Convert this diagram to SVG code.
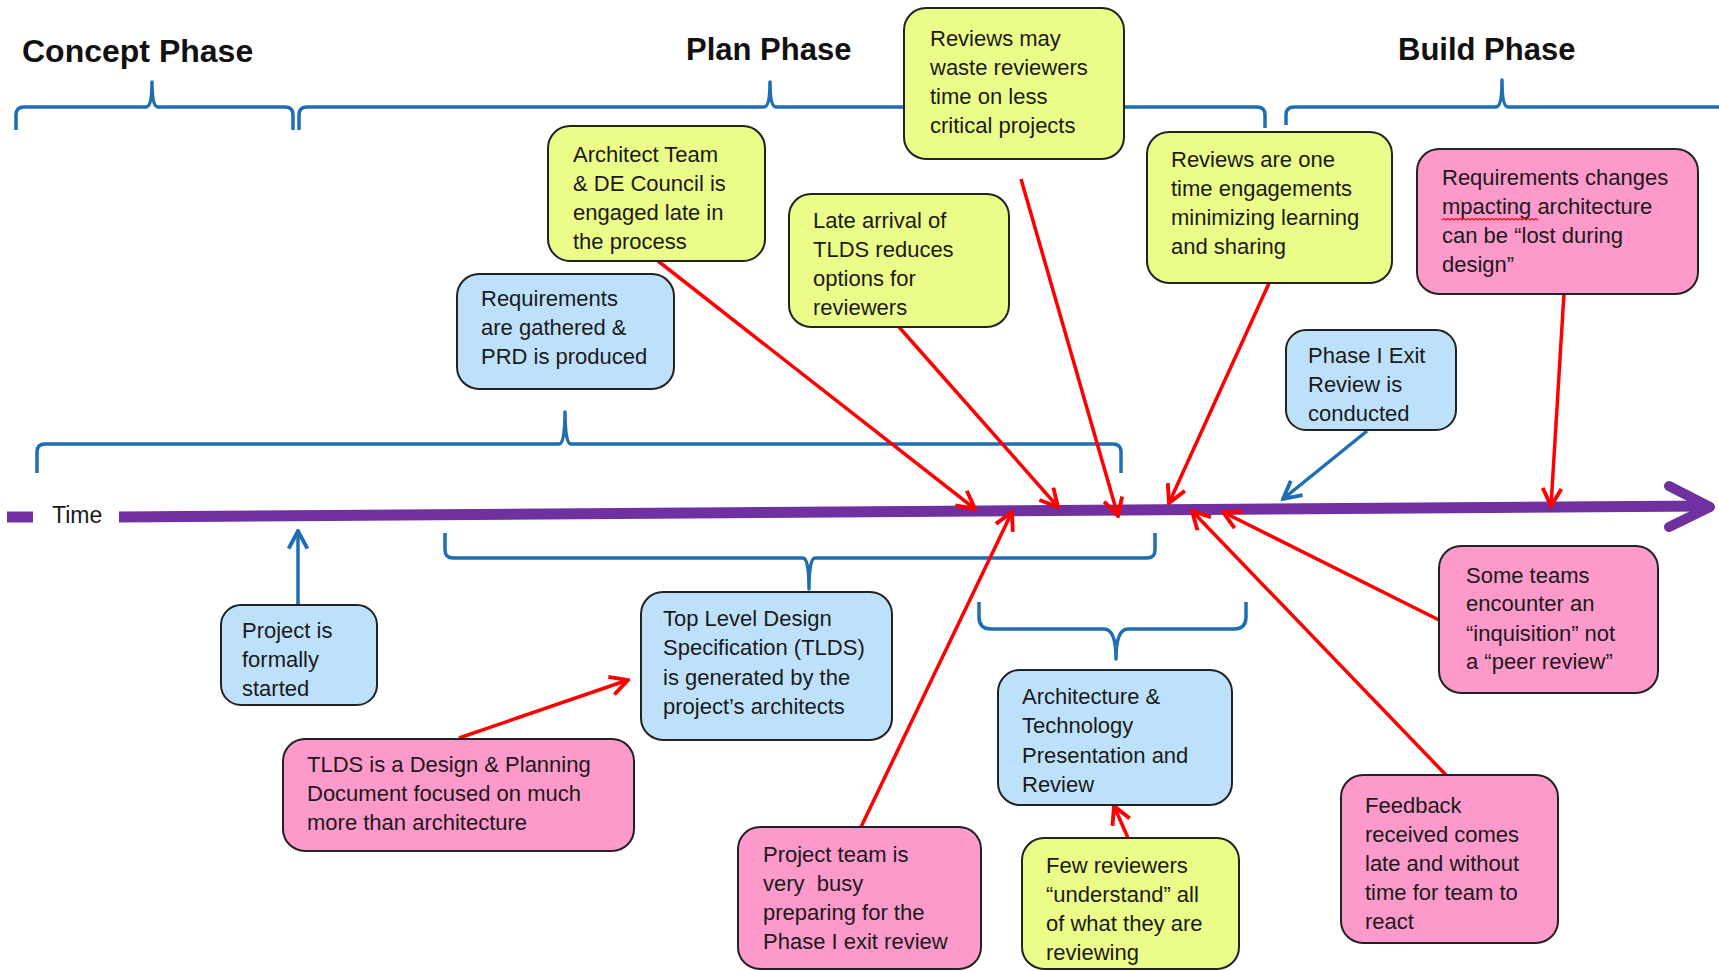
<svg xmlns="http://www.w3.org/2000/svg" width="1719" height="971" viewBox="0 0 1719 971">
<style>
.hdr{font-family:"Liberation Sans",Arial,sans-serif;font-weight:bold;font-size:31px;fill:#111}
.t{font-family:"Liberation Sans",Arial,sans-serif;font-size:22px;fill:#1a1a1a;white-space:pre}
.box{stroke:#222;stroke-width:2}
.y{fill:#ECFC88}
.b{fill:#BEE1FB}
.p{fill:#FD99CB}
.brace{fill:none;stroke:#1F6DB3;stroke-width:3.5;stroke-linejoin:round}
.red{stroke:#FF0000;stroke-width:3.5;fill:none;marker-end:url(#ar)}
.blue{stroke:#1F6DB3;stroke-width:3.5;fill:none;marker-end:url(#ab)}
</style>
<defs>
<marker id="ar" viewBox="0 0 20 20" refX="18" refY="10" markerWidth="22" markerHeight="22" markerUnits="userSpaceOnUse" orient="auto">
<path d="M2,1.5 L18,10 L2,18.5" fill="none" stroke="#FF0000" stroke-width="3.5"/>
</marker>
<marker id="ab" viewBox="0 0 20 20" refX="18" refY="10" markerWidth="22" markerHeight="22" markerUnits="userSpaceOnUse" orient="auto">
<path d="M2,1.5 L18,10 L2,18.5" fill="none" stroke="#1F6DB3" stroke-width="3.5"/>
</marker>
</defs>
<rect width="1719" height="971" fill="#fff"/>

<g id="headers">
<text class="hdr" x="22" y="62" style="font-size:32px">Concept Phase</text>
<text class="hdr" x="686" y="60">Plan Phase</text>
<text class="hdr" x="1398" y="60">Build Phase</text>
</g>

<g id="brackets">
<path class="brace" d="M16,130 L16,115 Q16,107 24,107 L146,107 Q152,107 152,82 Q152,107 158,107 L285,107 Q293,107 293,115 L293,130"/>
<path class="brace" d="M299,130 L299,115 Q299,107 307,107 L764,107 Q770,107 770,82 Q770,107 776,107 L1257,107 Q1265,107 1265,115 L1265,128"/>
<path class="brace" d="M1286,125 L1286,115 Q1286,107 1294,107 L1496,107 Q1502,107 1502,80 Q1502,107 1508,107 L1725,107"/>
<path class="brace" d="M37,473 L37,452 Q37,444 45,444 L559,444 Q565,444 565,412 Q565,444 571,444 L1113,444 Q1121,444 1121,452 L1121,473"/>
<path class="brace" d="M445,533 L445,550 Q445,558 453,558 L803,558 Q809,558 809,589 Q809,558 815,558 L1147,558 Q1155,558 1155,550 L1155,533"/>
<path class="brace" d="M979,602 L979,617 Q979,629 991,629 L1104,629 Q1116,629 1116,659 Q1116,629 1128,629 L1234,629 Q1246,629 1246,617 L1246,602"/>
</g>

<g id="timeline">
<line x1="7" y1="517" x2="33" y2="517" stroke="#7030A0" stroke-width="11"/>
<text class="t" x="52" y="523" style="font-size:23px">Time</text>
<line x1="119" y1="517" x2="1706" y2="506" stroke="#7030A0" stroke-width="11"/>
<path d="M1669,486 L1710,507 L1669,527" fill="none" stroke="#7030A0" stroke-width="10" stroke-linecap="round" stroke-linejoin="round"/>
</g>

<g id="connectors">
<line class="red" x1="658" y1="261" x2="975" y2="509"/>
<line class="red" x1="899" y1="327" x2="1058" y2="507"/>
<line class="red" x1="1021" y1="179" x2="1118" y2="516"/>
<line class="red" x1="1270" y1="281" x2="1169" y2="503"/>
<line class="blue" x1="1367" y1="431" x2="1283" y2="499"/>
<line class="red" x1="1564" y1="293" x2="1551" y2="506"/>
<line class="blue" x1="298" y1="605" x2="298" y2="531"/>
<line class="red" x1="459" y1="738" x2="628" y2="680"/>
<line class="red" x1="861" y1="827" x2="1012" y2="512"/>
<line class="red" x1="1446" y1="775" x2="1192" y2="511"/>
<line class="red" x1="1439" y1="620" x2="1223" y2="512"/>
<line class="red" x1="1128" y1="838" x2="1114" y2="806"/>
</g>

<g id="node-reviews-waste">
<rect class="box y" x="904" y="8" width="220" height="151" rx="22"/>
<text class="t"><tspan x="930" y="46">Reviews may</tspan><tspan x="930" y="75">waste reviewers</tspan><tspan x="930" y="104">time on less</tspan><tspan x="930" y="133">critical projects</tspan></text>
</g>
<g id="node-architect-team">
<rect class="box y" x="548" y="126" width="217" height="135" rx="22"/>
<text class="t"><tspan x="573" y="162">Architect Team</tspan><tspan x="573" y="191">&amp; DE Council is</tspan><tspan x="573" y="220">engaged late in</tspan><tspan x="573" y="249">the process</tspan></text>
</g>
<g id="node-late-arrival">
<rect class="box y" x="789" y="194" width="220" height="133" rx="22"/>
<text class="t"><tspan x="813" y="228">Late arrival of</tspan><tspan x="813" y="257">TLDS reduces</tspan><tspan x="813" y="286">options for</tspan><tspan x="813" y="315">reviewers</tspan></text>
</g>
<g id="node-requirements">
<rect class="box b" x="457" y="274" width="217" height="115" rx="22"/>
<text class="t"><tspan x="481" y="306">Requirements</tspan><tspan x="481" y="335">are gathered &amp;</tspan><tspan x="481" y="364">PRD is produced</tspan></text>
</g>
<g id="node-one-time">
<rect class="box y" x="1147" y="132" width="245" height="151" rx="22"/>
<text class="t"><tspan x="1171" y="167">Reviews are one</tspan><tspan x="1171" y="196">time engagements</tspan><tspan x="1171" y="225">minimizing learning</tspan><tspan x="1171" y="254">and sharing</tspan></text>
</g>
<g id="node-req-changes">
<rect class="box p" x="1417" y="149" width="281" height="145" rx="22"/>
<text class="t"><tspan x="1442" y="185">Requirements changes</tspan><tspan x="1442" y="214">mpacting architecture</tspan><tspan x="1442" y="243">can be “lost during</tspan><tspan x="1442" y="272">design”</tspan></text>
<path d="M1442,220 l2,-1.6 2,1.6 2,-1.6 2,1.6 2,-1.6 2,1.6 2,-1.6 2,1.6 2,-1.6 2,1.6 2,-1.6 2,1.6 2,-1.6 2,1.6 2,-1.6 2,1.6 2,-1.6 2,1.6 2,-1.6 2,1.6 2,-1.6 2,1.6 2,-1.6 2,1.6 2,-1.6 2,1.6 2,-1.6 2,1.6 2,-1.6 2,1.6 2,-1.6 2,1.6 2,-1.6 2,1.6 2,-1.6 2,1.6 2,-1.6 2,1.6 2,-1.6 2,1.6 2,-1.6 2,1.6 2,-1.6 2,1.6 2,-1.6 2,1.6 2,-1.6 2,1.6" fill="none" stroke="#FF0000" stroke-width="1.2"/>
</g>
<g id="node-phase-exit">
<rect class="box b" x="1286" y="330" width="170" height="100" rx="20"/>
<text class="t"><tspan x="1308" y="363">Phase I Exit</tspan><tspan x="1308" y="392">Review is</tspan><tspan x="1308" y="421">conducted</tspan></text>
</g>
<g id="node-project-started">
<rect class="box b" x="221" y="605" width="156" height="100" rx="20"/>
<text class="t"><tspan x="242" y="638">Project is</tspan><tspan x="242" y="667">formally</tspan><tspan x="242" y="696">started</tspan></text>
</g>
<g id="node-tlds">
<rect class="box b" x="641" y="592" width="251" height="148" rx="22"/>
<text class="t"><tspan x="663" y="626">Top Level Design</tspan><tspan x="663" y="655">Specification (TLDS)</tspan><tspan x="663" y="685">is generated by the</tspan><tspan x="663" y="714">project’s architects</tspan></text>
</g>
<g id="node-tlds-doc">
<rect class="box p" x="283" y="739" width="351" height="112" rx="22"/>
<text class="t"><tspan x="307" y="772">TLDS is a Design &amp; Planning</tspan><tspan x="307" y="801">Document focused on much</tspan><tspan x="307" y="830">more than architecture</tspan></text>
</g>
<g id="node-busy">
<rect class="box p" x="738" y="827" width="243" height="142" rx="22"/>
<text class="t"><tspan x="763" y="862">Project team is</tspan><tspan x="763" y="891">very  busy</tspan><tspan x="763" y="920">preparing for the</tspan><tspan x="763" y="949">Phase I exit review</tspan></text>
</g>
<g id="node-arch-tech">
<rect class="box b" x="998" y="670" width="234" height="135" rx="22"/>
<text class="t"><tspan x="1022" y="704">Architecture &amp;</tspan><tspan x="1022" y="733">Technology</tspan><tspan x="1022" y="763">Presentation and</tspan><tspan x="1022" y="792">Review</tspan></text>
</g>
<g id="node-few-reviewers">
<rect class="box y" x="1022" y="838" width="217" height="131" rx="22"/>
<text class="t"><tspan x="1046" y="873">Few reviewers</tspan><tspan x="1046" y="902">“understand” all</tspan><tspan x="1046" y="931">of what they are</tspan><tspan x="1046" y="960">reviewing</tspan></text>
</g>
<g id="node-inquisition">
<rect class="box p" x="1439" y="546" width="219" height="147" rx="22"/>
<text class="t"><tspan x="1466" y="583">Some teams</tspan><tspan x="1466" y="611">encounter an</tspan><tspan x="1466" y="641">“inquisition” not</tspan><tspan x="1466" y="669">a “peer review”</tspan></text>
</g>
<g id="node-feedback">
<rect class="box p" x="1341" y="775" width="217" height="168" rx="22"/>
<text class="t"><tspan x="1365" y="813">Feedback</tspan><tspan x="1365" y="842">received comes</tspan><tspan x="1365" y="871">late and without</tspan><tspan x="1365" y="900">time for team to</tspan><tspan x="1365" y="929">react</tspan></text>
</g>
</svg>
